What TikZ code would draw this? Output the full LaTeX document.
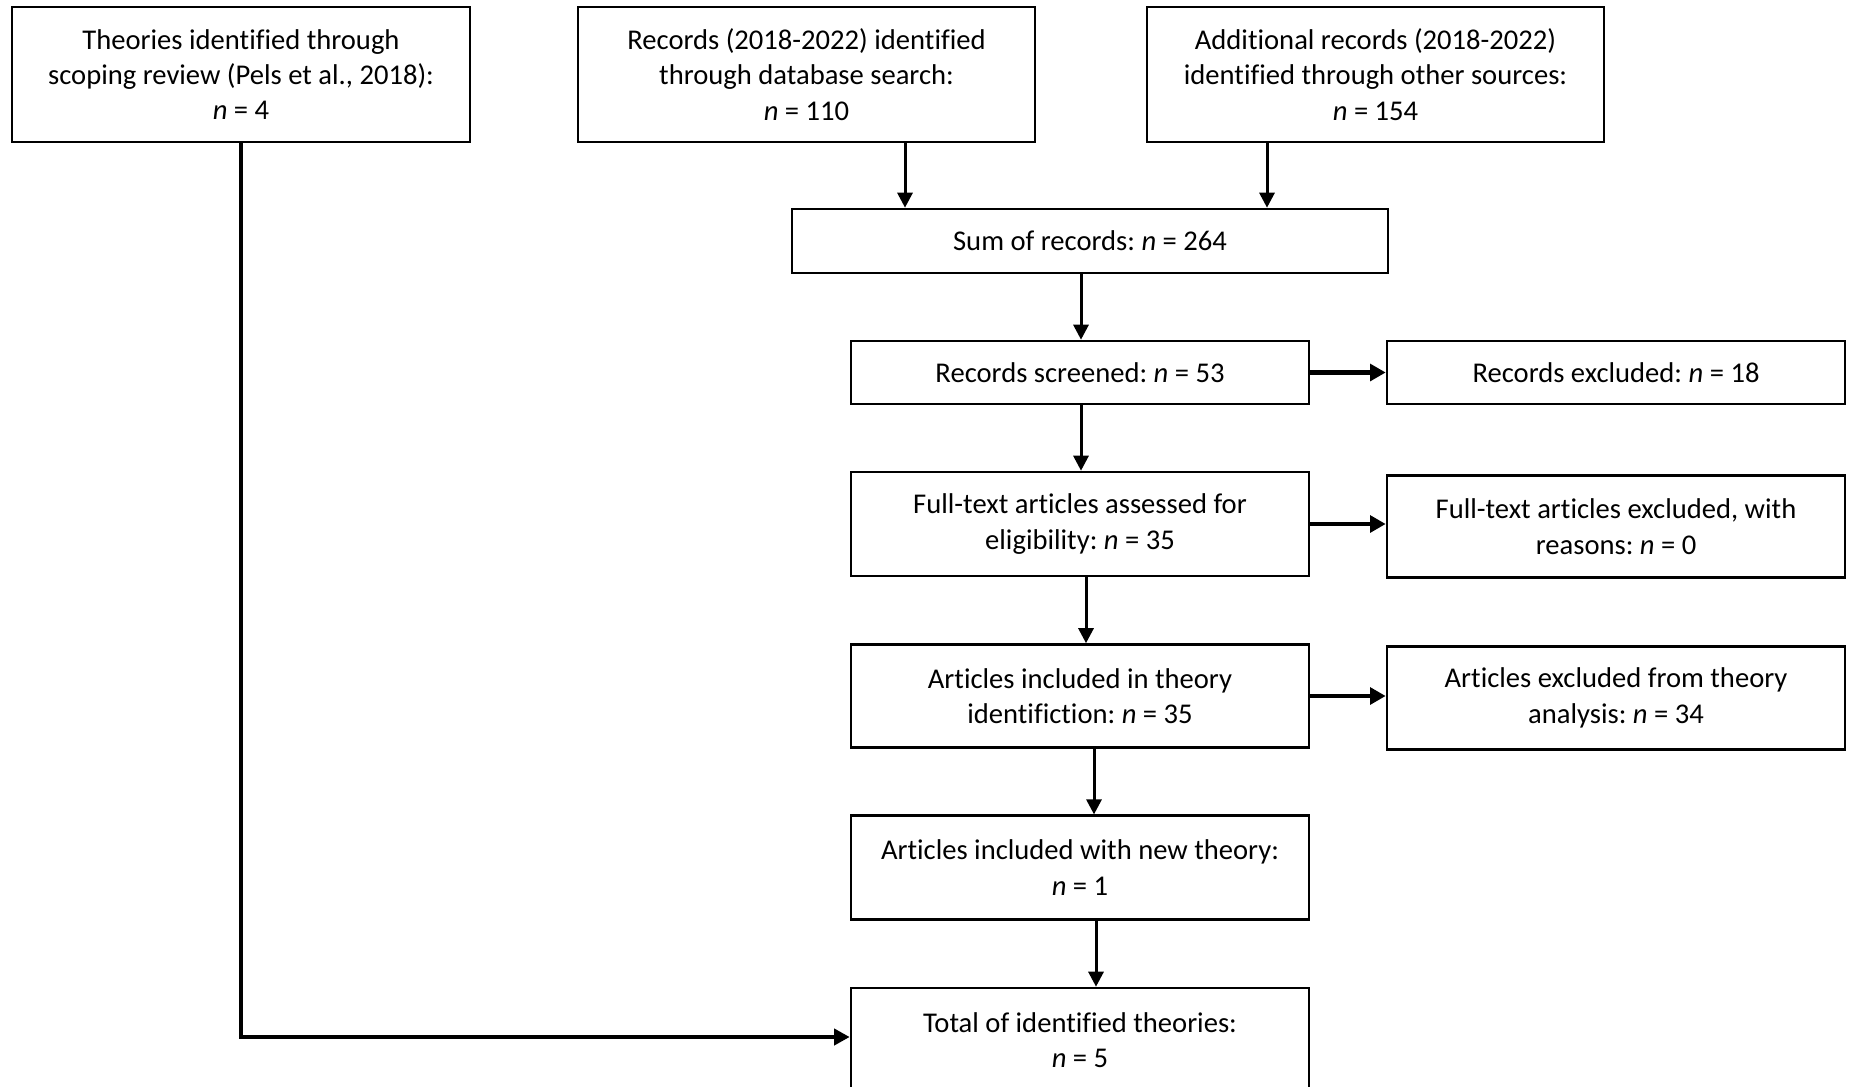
\documentclass[tikz,border=0pt]{standalone}
\usepackage{fontspec}
\setmainfont[Ligatures={NoCommon}]{Carlito}
\usetikzlibrary{arrows.meta}
\begin{document}
\frenchspacing
\begin{tikzpicture}[x=0.5pt,y=-0.5pt,
  box/.style={draw=black,line width=1.3pt,rectangle,align=center,inner sep=0pt,
    font=\fontsize{14.3}{17.7}\selectfont},
  arr/.style={line width=1.5pt,-{Triangle[length=7.5pt,width=7.5pt]}},
  harr/.style={line width=2.4pt,-{Triangle[length=7.8pt,width=8.3pt]}},
  larr/.style={line width=2pt,-{Triangle[length=7.8pt,width=8pt]}}]
\useasboundingbox (0,0) rectangle (1851,1086);
\fill[white] (0,0) rectangle (1851,1086);
\node[box,minimum width=229pt,minimum height=67.5pt] (A) at (241,74.5) {Theories identified through\\scoping review (Pels et al., 2018):\\\textit{n} = 4};
\node[box,minimum width=228.5pt,minimum height=67.5pt] (B) at (806.5,74.5) {Records (2018-2022) identified\\through database search:\\\textit{n} = 110};
\node[box,minimum width=228.5pt,minimum height=67.5pt] (C) at (1375.5,74.5) {Additional records (2018-2022)\\identified through other sources:\\\textit{n} = 154};
\node[box,minimum width=298pt,minimum height=32pt] (S) at (1090,241) {Sum of records: \textit{n} = 264};
\node[box,minimum width=229pt,minimum height=31.5pt] (R) at (1080,372.5) {Records screened: \textit{n} = 53};
\node[box,minimum width=229pt,minimum height=31.5pt] (RE) at (1616,372.5) {Records excluded: \textit{n} = 18};
\node[box,minimum width=229pt,minimum height=52pt] (F) at (1080,524) {Full-text articles assessed for\\eligibility: \textit{n} = 35};
\node[box,minimum width=229pt,minimum height=51pt] (FE) at (1616,526.5) {Full-text articles excluded, with\\reasons: \textit{n} = 0};
\node[box,minimum width=229pt,minimum height=51.5pt] (AI) at (1080,696) {Articles included in theory\\identifiction: \textit{n} = 35};
\node[box,minimum width=229pt,minimum height=51.5pt] (AE) at (1616,698) {Articles excluded from theory\\analysis: \textit{n} = 34};
\node[box,minimum width=229pt,minimum height=52pt] (N) at (1080,867.7) {Articles included with new theory:\\\textit{n} = 1};
\node[box,minimum width=229pt,minimum height=52pt] (T) at (1080,1040) {Total of identified theories:\\\textit{n} = 5};
\coordinate (xb) at (905,0);
\coordinate (xc) at (1267,0);
\coordinate (xs) at (1081,0);
\coordinate (xf) at (1086,0);
\coordinate (xn) at (1094,0);
\coordinate (xt) at (1096,0);
\coordinate (xa) at (241,0);
\coordinate (yt) at (0,1037);
\draw[arr] (B.south -| xb) -- (S.north -| xb);
\draw[arr] (C.south -| xc) -- (S.north -| xc);
\draw[arr] (S.south -| xs) -- (R.north -| xs);
\draw[arr] (R.south -| xs) -- (F.north -| xs);
\draw[arr] (F.south -| xf) -- (AI.north -| xf);
\draw[arr] (AI.south -| xn) -- (N.north -| xn);
\draw[arr] (N.south -| xt) -- (T.north -| xt);
\draw[harr] (R.east) -- (RE.west |- R.east);
\draw[harr] (F.east) -- (FE.west |- F.east);
\draw[harr] (AI.east) -- (AE.west |- AI.east);
\draw[larr] (A.south) -- (xa |- yt) -- (T.west |- yt);
\end{tikzpicture}
\end{document}
